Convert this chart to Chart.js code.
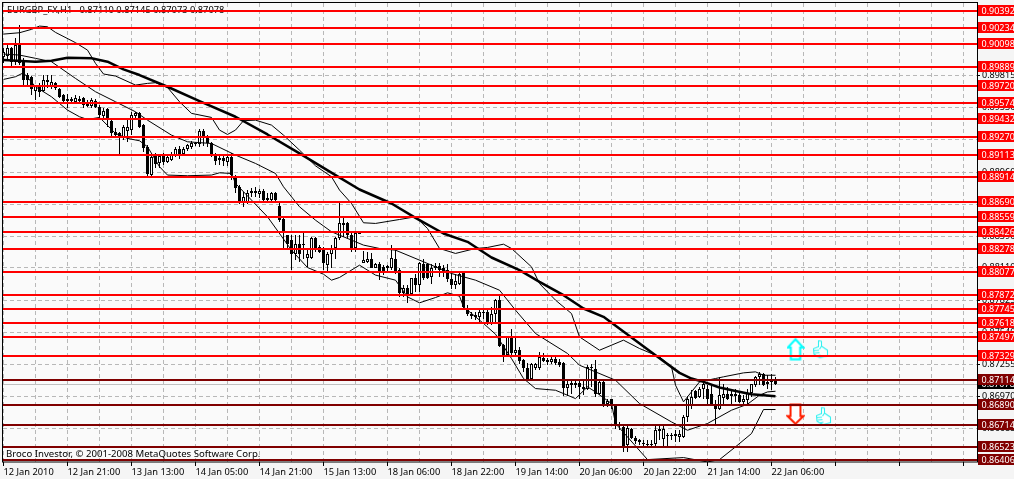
<!DOCTYPE html>
<html><head><meta charset="utf-8">
<style>html,body{margin:0;padding:0;overflow:hidden;background:#f5f5f5}canvas{display:block}</style>
<script src="https://cdn.jsdelivr.net/npm/chart.js@4"></script>
</head><body><canvas id="c" width="1014" height="479"></canvas>
<script>
const titleText='EURGBP_FX,H1   0.87110 0.87145 0.87073 0.87078';
const creditText='Broco Investor, © 2001-2008 MetaQuotes Software Corp.';
const timeLabels=['12 Jan 2010','12 Jan 21:00','13 Jan 13:00','14 Jan 05:00','14 Jan 21:00','15 Jan 13:00','18 Jan 06:00','18 Jan 22:00','19 Jan 14:00','20 Jan 06:00','20 Jan 22:00','21 Jan 14:00','22 Jan 06:00'];
const yTickValues=[.90385,.90100,.89815,.89530,.89245,.88960,.88675,.88390,.88110,.87825,.87540,.87255,.86970,.86685,.86400];
const redLevels=[.90392,.90234,.90098,.89889,.89720,.89574,.89432,.89270,.89113,.88914,.88690,.88559,.88426,.88278,.88077,.87872,.87745,.87618,.87497,.87329];
const darkLevels=[.87114,.86890,.86714,.86523,.86406];
const currentPrice=.87078;

const opens=[.89982,.89988,.90056,.89938,.90086,.89938,.89820,.89805,.89681,.89710,.89681,.89775,.89722,.89746,.89696,.89642,.89604,.89589,.89583,.89592,.89613,.89583,.89545,.89592,.89533,.89459,.89515,.89415,.89317,.89302,.89273,.89326,.89332,.89456,.89480,.89376,.89184,.88933,.89110,.89036,.89110,.89051,.89066,.89110,.89163,.89119,.89160,.89184,.89208,.89208,.89326,.89267,.89219,.89104,.89080,.89080,.89045,.89095,.88912,.88823,.88696,.88696,.88770,.88770,.88764,.88794,.88711,.88711,.88776,.88658,.88542,.88400,.88356,.88232,.88326,.88326,.88202,.88202,.88371,.88297,.88282,.88134,.88232,.88282,.88371,.88489,.88504,.88400,.88282,.88415,.88155,.88164,.88193,.88113,.88143,.88119,.88105,.88105,.88193,.88090,.87883,.87936,.87877,.88016,.87957,.88143,.88143,.88025,.88125,.88125,.88105,.88090,.88007,.87957,.87966,.88066,.87741,.87699,.87694,.87676,.87711,.87720,.87623,.87699,.87824,.87425,.87336,.87493,.87351,.87386,.87297,.87223,.87129,.87218,.87218,.87315,.87291,.87277,.87306,.87277,.87268,.87049,.87090,.87070,.87090,.87055,.87040,.87218,.87209,.86996,.87099,.86907,.86943,.86883,.86730,.86700,.86537,.86685,.86605,.86582,.86561,.86552,.86552,.86546,.86665,.86596,.86626,.86626,.86617,.86611,.86611,.86789,.86883,.87019,.86966,.87040,.87040,.86990,.86907,.86863,.86960,.86990,.86972,.86972,.86981,.86922,.86937,.87002,.87070,.87138,.87173,.87076,.87105,.87110];
const closes=[.90027,.90056,.89938,.90086,.89923,.89775,.89775,.89693,.89722,.89672,.89775,.89758,.89761,.89701,.89627,.89592,.89592,.89604,.89613,.89604,.89553,.89545,.89598,.89533,.89465,.89503,.89426,.89302,.89287,.89279,.89361,.89361,.89465,.89480,.89361,.89169,.88941,.89095,.89030,.89101,.89051,.89095,.89119,.89163,.89119,.89163,.89196,.89219,.89219,.89326,.89267,.89213,.89110,.89060,.89066,.89060,.89089,.88933,.88814,.88696,.88740,.88776,.88791,.88791,.88791,.88711,.88726,.88770,.88711,.88533,.88421,.88326,.88232,.88326,.88232,.88312,.88232,.88371,.88282,.88252,.88149,.88232,.88282,.88371,.88504,.88504,.88400,.88267,.88415,.88412,.88184,.88193,.88113,.88143,.88081,.88081,.88128,.88202,.88075,.87883,.87936,.87877,.88016,.87957,.88149,.88022,.88016,.88113,.88105,.88090,.88084,.88007,.87957,.87995,.88060,.87765,.87699,.87682,.87676,.87720,.87720,.87623,.87699,.87824,.87416,.87336,.87498,.87351,.87386,.87285,.87218,.87129,.87256,.87262,.87321,.87285,.87277,.87306,.87268,.87247,.87049,.87079,.87070,.87090,.87055,.87040,.87232,.87232,.86996,.87099,.86907,.86931,.86892,.86715,.86706,.86523,.86694,.86605,.86576,.86567,.86546,.86543,.86543,.86670,.86685,.86685,.86617,.86617,.86635,.86641,.86789,.86951,.86966,.86960,.87040,.87084,.86951,.86901,.86863,.86981,.86990,.86951,.86990,.86990,.86922,.86943,.87002,.87076,.87144,.87173,.87070,.87099,.87096,.87078];
const highs=[.90056,.90101,.90071,.90145,.90263,.89968,.89834,.89811,.89731,.89746,.89820,.89820,.89820,.89761,.89701,.89648,.89651,.89627,.89642,.89633,.89627,.89598,.89613,.89604,.89553,.89524,.89524,.89420,.89347,.89317,.89376,.89420,.89494,.89494,.89494,.89385,.89199,.89110,.89125,.89119,.89125,.89110,.89140,.89184,.89193,.89184,.89208,.89237,.89228,.89338,.89338,.89287,.89228,.89125,.89110,.89110,.89119,.89125,.88933,.88844,.88785,.88800,.88814,.88823,.88805,.88805,.88770,.88785,.88785,.88696,.88563,.88400,.88400,.88400,.88400,.88415,.88267,.88385,.88385,.88312,.88297,.88252,.88312,.88385,.88696,.88554,.88519,.88415,.88421,.88415,.88258,.88252,.88244,.88149,.88164,.88134,.88134,.88312,.88267,.88105,.87957,.87957,.88016,.88060,.88164,.88193,.88149,.88143,.88155,.88149,.88134,.88143,.88075,.88060,.88075,.88075,.87779,.87720,.87720,.87750,.87750,.87735,.87765,.87838,.87868,.87439,.87498,.87572,.87484,.87410,.87306,.87268,.87268,.87268,.87365,.87351,.87312,.87321,.87321,.87306,.87277,.87114,.87114,.87129,.87129,.87114,.87247,.87262,.87297,.87114,.87114,.86951,.86951,.86892,.86744,.86706,.86706,.86694,.86617,.86596,.86582,.86582,.86582,.86706,.86706,.86706,.86647,.86647,.86676,.86670,.86804,.86972,.87031,.87025,.87055,.87105,.87070,.87084,.86937,.87144,.87084,.87055,.87019,.87040,.87010,.86981,.87040,.87084,.87150,.87188,.87179,.87158,.87173,.87145];
const lows=[.89923,.89953,.89894,.89908,.89908,.89731,.89731,.89642,.89598,.89627,.89672,.89701,.89693,.89687,.89613,.89583,.89524,.89568,.89562,.89568,.89524,.89533,.89524,.89524,.89435,.89435,.89355,.89279,.89267,.89119,.89243,.89228,.89287,.89420,.89347,.89140,.88924,.88924,.88992,.88992,.89021,.89042,.89060,.89095,.89074,.89110,.89148,.89160,.89190,.89184,.89190,.89184,.89089,.89021,.89021,.89015,.89015,.88888,.88770,.88675,.88646,.88675,.88740,.88740,.88734,.88696,.88687,.88696,.88696,.88519,.88282,.88282,.88090,.88178,.88164,.88193,.88119,.88193,.88252,.88238,.88090,.88075,.88105,.88193,.88356,.88385,.88371,.88252,.88252,.88409,.88149,.88155,.88105,.88105,.88001,.88046,.88075,.88090,.88060,.87853,.87853,.87803,.87868,.87898,.87898,.88001,.88007,.87971,.88090,.88031,.88031,.87986,.87927,.87927,.87957,.87741,.87682,.87661,.87646,.87631,.87661,.87602,.87602,.87631,.87410,.87277,.87321,.87336,.87336,.87262,.87188,.87114,.87114,.87203,.87203,.87277,.87247,.87262,.87247,.87232,.86972,.86972,.86996,.87049,.86951,.86981,.87025,.87055,.86966,.86981,.86877,.86877,.86863,.86685,.86676,.86478,.86478,.86596,.86552,.86537,.86529,.86529,.86529,.86529,.86588,.86523,.86523,.86582,.86567,.86567,.86605,.86744,.86863,.86951,.86960,.86951,.86907,.86892,.86715,.86848,.86892,.86937,.86883,.86922,.86913,.86907,.86907,.86966,.87055,.87070,.87061,.87040,.87031,.87073];

const maIdx=[0,8,12,16,22,26,30,34,41,49,58,66,74,83,89,97,103,110,116,122,129,134,140,145,150,157,163,169,172,175,179,183,187,193];
const maVal=[.89953,.89938,.89947,.89973,.89968,.89938,.89870,.89820,.89716,.89589,.89450,.89293,.89125,.88933,.88805,.88681,.88554,.88415,.88341,.88202,.88090,.87986,.87868,.87750,.87676,.87493,.87336,.87179,.87129,.87099,.87049,.87019,.86990,.86972];
const upperIdx=[0,4,7,9,11,13,18,21,23,25,28,33,36,38,41,44,47,52,54,56,58,60,63,67,70,74,78,82,84,87,90,93,99,103,106,109,113,118,121,125,127,132,134,138,142,144,149,155,159,164,167,168,170,174,178,180,185,188,190,193];
const upperVal=[.90183,.90195,.90225,.90254,.90248,.90198,.90107,.90041,.89923,.89829,.89811,.89731,.89746,.89752,.89710,.89583,.89480,.89444,.89332,.89293,.89332,.89415,.89420,.89376,.89287,.89154,.89015,.88918,.88800,.88681,.88510,.88504,.88539,.88563,.88459,.88282,.88238,.88282,.88291,.88320,.88282,.88119,.87971,.87824,.87705,.87498,.87380,.87469,.87395,.87321,.87232,.87070,.86922,.87099,.87129,.87144,.87179,.87188,.87158,.87158];
const middleIdx=[0,4,8,12,18,23,28,33,36,42,46,52,58,63,68,70,74,78,82,90,94,98,105,112,118,124,128,133,141,144,153,159,167,171,176,182,186,189,191,193];
const middleVal=[.90006,.89997,.89968,.89938,.89790,.89672,.89583,.89494,.89420,.89287,.89228,.89213,.89110,.89036,.88947,.88829,.88652,.88533,.88430,.88312,.88282,.88267,.88164,.88060,.88001,.87912,.87735,.87528,.87351,.87247,.87114,.86907,.86744,.86670,.86730,.86848,.86901,.86981,.87010,.87016];
const lowerIdx=[0,3,5,8,12,16,19,21,24,28,31,34,36,39,41,46,52,54,57,58,62,66,72,76,80,82,84,89,93,98,101,104,108,111,114,115,120,123,127,130,133,138,143,146,148,152,153,156,161,170,176,179,183,187,190,193];
const lowerVal=[.89781,.89805,.89840,.89716,.89627,.89509,.89450,.89426,.89444,.89302,.89258,.89237,.89184,.89007,.88933,.88927,.88933,.88953,.88947,.88859,.88711,.88563,.88267,.88113,.88054,.88001,.88025,.88134,.88046,.88001,.87853,.87800,.87847,.87889,.87859,.87765,.87617,.87522,.87306,.87129,.87040,.87025,.86951,.87055,.87010,.86907,.86730,.86611,.86410,.86428,.86389,.86410,.86523,.86641,.86854,.86854];
const signalIdx=[198,204.25,198,205];
const signalVal=[.87389,.87389,.86812,.86795];

const xMin=-0.125,xMax=243.375,yMin=.863887,yMax=.904587;
const pair=(xs,ys)=>xs.map((x,i)=>({x,y:ys[i]}));

function icon(w,h,draw){const c=document.createElement('canvas');c.width=w;c.height=h;draw(c.getContext('2d'));return c;}
function arrowPath(g,up,w,h){
  const m=w/2,s=w*0.26,hh=h*0.42;
  g.beginPath();
  if(up){g.moveTo(m,1.5);g.lineTo(w-1.5,hh);g.lineTo(m+s,hh);g.lineTo(m+s,h-1.5);g.lineTo(m-s,h-1.5);g.lineTo(m-s,hh);g.lineTo(1.5,hh);}
  else{g.moveTo(m,h-1.5);g.lineTo(w-1.5,h-hh);g.lineTo(m+s,h-hh);g.lineTo(m+s,1.5);g.lineTo(m-s,1.5);g.lineTo(m-s,h-hh);g.lineTo(1.5,h-hh);}
  g.closePath();
}
const upIcon=icon(18,23,g=>{arrowPath(g,true,18,23);g.fillStyle='#fff';g.fill();g.strokeStyle='#00ffff';g.lineWidth=2;g.stroke();});
const downIcon=icon(19,22,g=>{arrowPath(g,false,19,22);g.fillStyle='#fff';g.fill();g.strokeStyle='#ff2000';g.lineWidth=2;g.stroke();});
const thumbIcon=icon(17,20,g=>{
  g.strokeStyle='#33f0f0';g.lineWidth=1.1;g.fillStyle='#fbffff';g.lineJoin='round';
  g.beginPath();g.moveTo(6.5,1.5);g.lineTo(9.5,2);g.lineTo(9.5,7);g.lineTo(15.5,11);g.lineTo(15.5,16.5);g.lineTo(8,18.5);g.lineTo(5,17);g.lineTo(2,15);g.lineTo(1.5,9.5);g.lineTo(6.5,7.5);g.closePath();g.fill();g.stroke();
  g.beginPath();g.moveTo(2,11.5);g.lineTo(7,11);g.moveTo(2.5,14);g.lineTo(7.5,13.5);g.moveTo(5,16.8);g.lineTo(8.5,16);g.moveTo(9.5,7);g.lineTo(7.5,10);g.stroke();
});

const hLine=(p,color)=>({type:'line',data:[{x:xMin,y:p},{x:xMax,y:p}],borderColor:color,borderWidth:2,pointRadius:0,order:1,snap:true});
const thin=(xs,ys,w)=>({type:'line',data:pair(xs,ys),borderColor:'#000',borderWidth:w,pointRadius:0,tension:0,borderJoinStyle:'round',order:3});
const ids=opens.map((_,i)=>i);
const upFlag=ids.map(i=>closes[i]>opens[i]);

const datasets=[
  ...redLevels.map(p=>hLine(p,'#ff0000')),
  ...darkLevels.map(p=>hLine(p,'#800000')),
  {type:'line',data:pair(signalIdx,signalVal),showLine:false,pointStyle:[upIcon,thumbIcon,downIcon,thumbIcon],order:2},
  thin(maIdx,maVal,2.5),thin(upperIdx,upperVal,1),thin(middleIdx,middleVal,1),thin(lowerIdx,lowerVal,1),
  {type:'bar',data:ids.map(i=>({x:i,y:[opens[i],closes[i]]})),grouped:false,barPercentage:1,categoryPercentage:1,maxBarThickness:3,inflateAmount:0,
   backgroundColor:ids.map(i=>upFlag[i]?'#fff':'#000'),borderColor:'#000',borderWidth:1,borderSkipped:false,order:4},
  {type:'bar',data:ids.map(i=>({x:i,y:[lows[i],highs[i]]})),grouped:false,barPercentage:1,categoryPercentage:1,maxBarThickness:1,inflateAmount:0,
   backgroundColor:'#000',borderWidth:0,borderSkipped:false,order:5},
  {type:'line',data:[{x:xMin,y:currentPrice},{x:xMax,y:currentPrice}],borderColor:'#c0c0c0',borderWidth:1,pointRadius:0,order:6,snapHalf:true}
];

const xTicks=[];for(let k=0;k<=30;k++)xTicks.push(k*8);
const FONT='"Noto Sans"';
const zeroPad=s=>{s.paddingTop=s.paddingBottom=s.paddingLeft=s.paddingRight=0;};

const decor={
  id:'decor',
  beforeDraw(ch){const g=ch.ctx,a=ch.chartArea;g.save();g.fillStyle='#f5f5f5';g.fillRect(0,0,ch.width,ch.height);g.fillStyle='#fafafa';g.fillRect(a.left,a.top,a.width,a.height);g.restore();},
  afterDatasetsUpdate(ch){
    ch.data.datasets.forEach((d,i)=>{
      const m=ch.getDatasetMeta(i);
      if(d.type==='bar'){m.data.forEach(el=>{el.y=Math.round(el.y);el.base=Math.round(el.base);if(el.y===el.base)el.base+=1;});}
      if(d.snap)m.data.forEach(el=>{el.y=Math.round(el.y);});
      if(d.snapHalf)m.data.forEach(el=>{el.y=Math.floor(el.y)+.5;});
    });
  },
  beforeDatasetsDraw(ch){
    const g=ch.ctx;g.save();g.fillStyle='#000';g.textBaseline='middle';g.textAlign='left';
    g.font='9.3px '+FONT;g.fillText(titleText,7,10.5);
    g.font='9.6px '+FONT;g.fillText(creditText,6,454);g.restore();
  },
  afterDatasetsDraw(ch){
    const g=ch.ctx,a=ch.chartArea;g.save();g.strokeStyle='#000';g.lineWidth=1;
    g.strokeRect(a.left-.5,a.top-.5,a.width+1,a.height+.5);g.restore();
  },
  afterDraw(ch){
    const g=ch.ctx,y=ch.scales.y,a=ch.chartArea;
    const tag=(p,bg)=>{const c=Math.round(y.getPixelForValue(p));
      g.fillStyle=bg;g.fillRect(a.right+1,c-6,ch.width-a.right,11);
      g.fillStyle='#fff';g.fillText(p.toFixed(5),981.5,c);};
    g.save();g.font='9px '+FONT;g.textBaseline='middle';g.textAlign='left';
    tag(currentPrice,'#000');
    [...darkLevels,...redLevels].forEach(p=>tag(p,redLevels.includes(p)?'#ff0000':'#800000'));
    g.restore();
  }
};

Chart.defaults.font.family=FONT;
new Chart(document.getElementById('c'),{
  data:{datasets},
  plugins:[decor],
  options:{
    responsive:false,animation:false,devicePixelRatio:1,
    layout:{autoPadding:false,padding:{left:3,top:3,right:0,bottom:0}},
    plugins:{legend:{display:false},tooltip:{enabled:false},title:{display:false}},
    scales:{
      x:{type:'linear',offset:false,min:xMin,max:xMax,position:'bottom',
        afterBuildTicks:s=>{s.ticks=xTicks.map(v=>({value:v}));},
        afterFit:s=>{s.height=17;zeroPad(s);},
        grid:{offset:false,color:'#b8b8b8',lineWidth:1,tickLength:4,tickColor:c=>(c.tick&&c.tick.value%16===0)?'#000':'rgba(0,0,0,0)',tickBorderDash:[]},
        border:{display:false,dash:[4,3]},
        ticks:{autoSkip:false,maxRotation:0,minRotation:0,align:'start',padding:1,color:'#000',font:{size:9.3,family:FONT},
          callback:v=>v%16===0?timeLabels[v/16]||'':''}
      },
      y:{type:'linear',min:yMin,max:yMax,position:'right',
        afterBuildTicks:s=>{s.ticks=yTickValues.map(v=>({value:v}));},
        afterFit:s=>{s.width=37;zeroPad(s);},
        grid:{color:'#b8b8b8',lineWidth:1,tickLength:3,tickColor:'#000',tickBorderDash:[]},
        border:{display:false,dash:[4,3]},
        ticks:{autoSkip:false,padding:2,color:'#000',font:{size:9,family:FONT},callback:v=>v.toFixed(5)}
      }
    }
  }
});
</script></body></html>
